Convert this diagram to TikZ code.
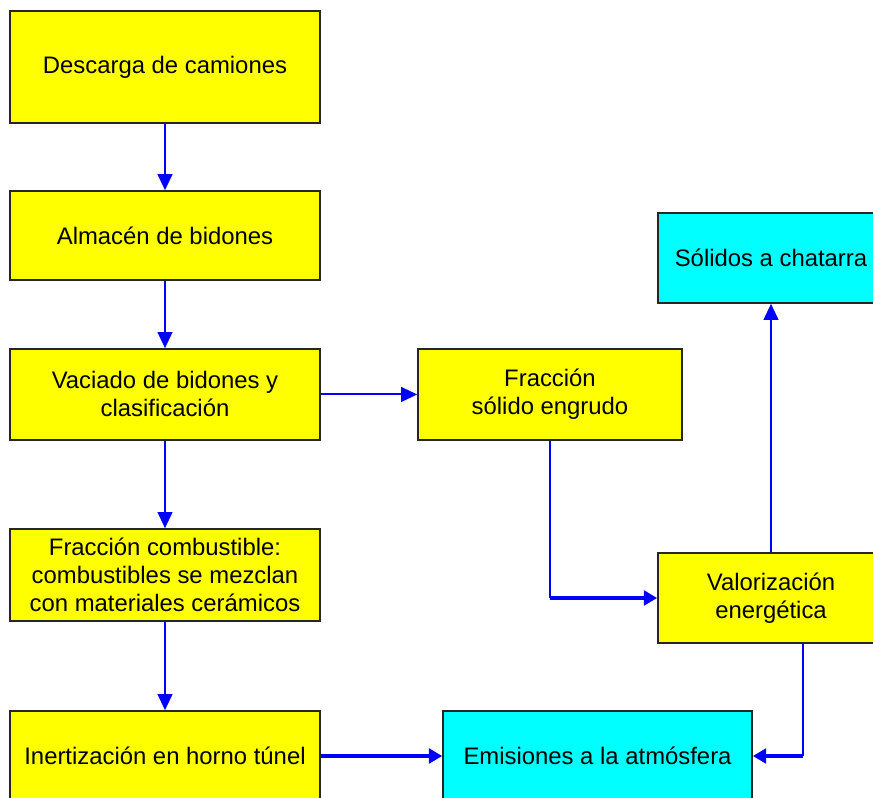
\documentclass[tikz,border=0pt]{standalone}
\usepackage{fontspec}
\setmainfont{Liberation Sans}
\usepackage{tikz}
\usetikzlibrary{arrows.meta}
\usetikzlibrary{shapes,calc}
\definecolor{stepyellow}{RGB}{255,255,0}
\definecolor{outcyan}{RGB}{0,255,255}
\definecolor{flowblue}{RGB}{0,0,255}

\begin{document}
\begin{tikzpicture}
    \tikzstyle{edge}  = [line width=1.5pt,draw=flowblue]
    \tikzstyle{dedge} = [edge,-{Triangle[width=11pt,length=12pt]}]
    \tikzstyle{wedge} = [dedge,line width=3pt,-{Triangle[width=11pt,length=10pt]}]
    \tikzstyle{box}=[
      rectangle,
      draw=black!85,
      line width=1.2pt,
      anchor=center,
      align=center,
      inner sep=0pt,
      minimum width=232.5pt,
      font=\fontsize{17.9}{21}\selectfont,
    ]
    \tikzstyle{stepbox}=[
      box,
      fill=stepyellow,
    ]
    \tikzstyle{outbox}=[
      box,
      fill=outcyan,
      minimum width=169.5pt,
      minimum height=67.5pt,
    ]

    \coordinate (mainAnchor) at (0,0);
    \clip ([xshift=-123.75pt, yshift=50.25pt] mainAnchor) rectangle ([xshift=531pt, yshift=-548.25pt] mainAnchor);

    % main line
    {
      \node[stepbox, minimum height=84pt] (descarga) at ([xshift=0pt, yshift=0pt] mainAnchor) {Descarga de camiones};
      \node[stepbox, minimum height=66.75pt] (almacen) at ([xshift=0pt, yshift=-126.4pt] mainAnchor) {Almacén de bidones};
      \node[stepbox, minimum height=68.25pt] (vaciado) at ([xshift=0pt, yshift=-245.6pt] mainAnchor) {Vaciado de bidones y\\clasificación};
      \node[stepbox, minimum height=69pt] (combust) at ([xshift=0pt, yshift=-381pt] mainAnchor) {Fracción combustible:\\combustibles se mezclan\\con materiales cerámicos};
      \node[stepbox, minimum height=67.5pt] (horno) at ([xshift=0pt, yshift=-516.75pt] mainAnchor) {Inertización en horno túnel};

      \draw[dedge] (descarga)--(almacen);
      \draw[dedge] (almacen)--(vaciado);
      \draw[dedge] (vaciado)--(combust);
      \draw[dedge] (combust)--(horno);
    }

    % solid fraction
    {
      \node[stepbox, minimum width=198pt, minimum height=68.25pt] (solido) at ([xshift=288.75pt, yshift=-245.6pt] mainAnchor) {Fracción\\sólido engrudo};
      \node[stepbox, minimum width=169.5pt, minimum height=67.5pt] (valor) at ([xshift=454.5pt, yshift=-398.25pt] mainAnchor) {Valorización\\energética};
      \node[outbox] (chatarra) at ([xshift=454.5pt, yshift=-143.25pt] mainAnchor) {Sólidos a chatarra};
      \node[outbox, minimum width=231.75pt] (emision) at ([xshift=324.4pt, yshift=-516.75pt] mainAnchor) {Emisiones a la atmósfera};

      \draw[dedge] (vaciado)--(solido);
      \draw[edge] (solido.south)--(solido.south |- valor.west);
      \draw[wedge] (solido.south |- valor.west)--(valor.west);
      \draw[dedge] (valor)--(chatarra);
    }

    % emissions
    {
      \draw[wedge] (horno)--(emision);
      \draw[edge] ([xshift=24pt] valor.south)--([xshift=24pt] valor.south |- emision.east);
      \draw[wedge] ([xshift=24pt] valor.south |- emision.east)--(emision.east);
    }
\end{tikzpicture}
\end{document}
